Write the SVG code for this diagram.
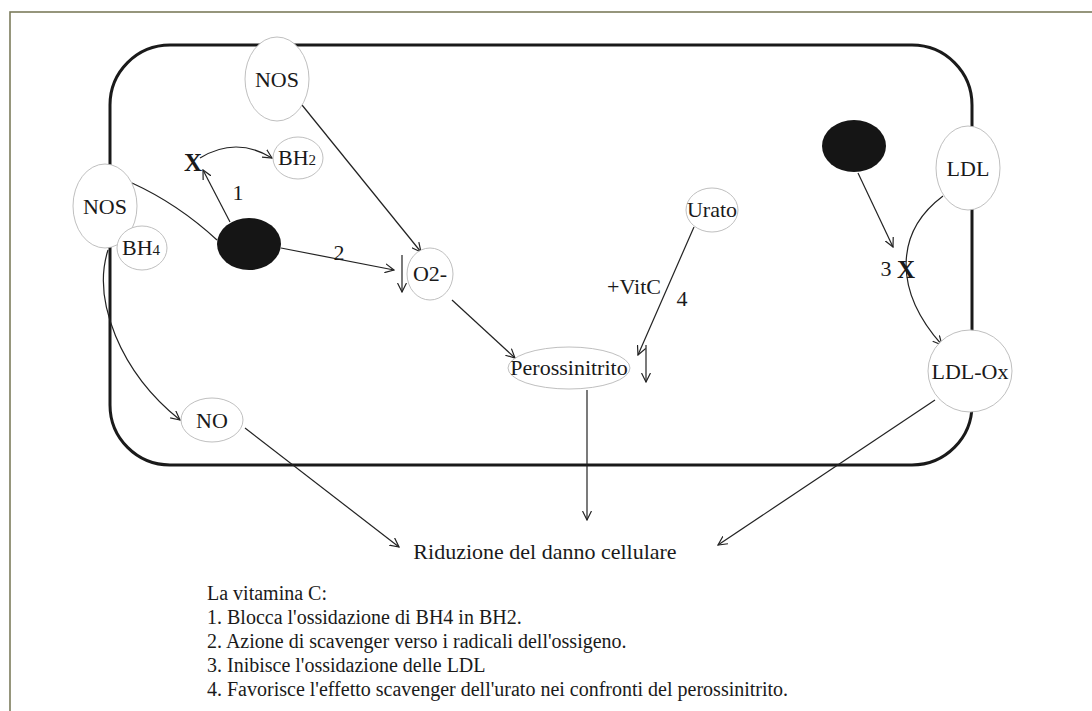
<svg xmlns="http://www.w3.org/2000/svg" width="1092" height="711" viewBox="0 0 1092 711">
<defs>
<marker id="arr" viewBox="0 0 10 10" refX="9" refY="5" markerWidth="10" markerHeight="10" markerUnits="userSpaceOnUse" orient="auto">
<path d="M0,0.5 L9,5 L0,9.5" fill="none" stroke="#222" stroke-width="1.2"/>
</marker>
</defs>
<style>
text{font-family:"Liberation Serif","Times New Roman",serif;fill:#1a1a1a}
.n{font-size:22px;text-anchor:middle}
.el{fill:#fff;stroke:#b8b8b8;stroke-width:0.9}
.bk{fill:#151515;stroke:none}
.c{fill:none;stroke:#222;stroke-width:1.2}
.ca{fill:none;stroke:#222;stroke-width:1.2;marker-end:url(#arr)}
.lg{font-size:20px}
.x{font-size:25px;font-weight:bold}
.sub{font-size:15px}
</style>
<rect x="0" y="0" width="1092" height="711" fill="#fff"/>
<rect x="10" y="12" width="1100" height="720" fill="none" stroke="#7c7c5c" stroke-width="1.6"/>
<rect id="cell" x="110" y="45" width="862" height="420" rx="60" ry="60" fill="none" stroke="#1a1a1a" stroke-width="3"/>

<g id="connectors">
<path class="ca" d="M302,105 L421,252"/>
<path class="c" d="M132,183 Q178,204 217,240"/>
<path class="ca" d="M230,222 L203,170"/>
<path class="ca" d="M200,158 Q236,136 272,158"/>
<path class="ca" d="M281,248 L394,270"/>
<path class="ca" d="M402,255 L402,292"/>
<path class="ca" d="M452,300 L515,358"/>
<path class="ca" d="M694,227 L638,355"/>
<path class="ca" d="M646,345 L646,382"/>
<path class="ca" d="M587,390 L587,520"/>
<path class="ca" d="M108,250 C92,300 120,372 180,420"/>
<path class="ca" d="M245,428 L399,547"/>
<path class="ca" d="M935,400 L718,545"/>
<path class="ca" d="M858,173 L893,247"/>
<path class="ca" d="M943,196 C895,232 893,290 942,345"/>
</g>

<g id="nos-top"><ellipse class="el" cx="277" cy="79" rx="32" ry="42"/><text class="n" x="277" y="87" font-size="23">NOS</text></g>
<g id="bh2"><ellipse class="el" cx="298" cy="158" rx="25" ry="21"/><text class="n" x="297" y="165" font-size="20">BH<tspan class="sub">2</tspan></text></g>
<g id="x1"><text class="x" x="193" y="171" text-anchor="middle">X</text></g>
<g id="label1"><text class="n" x="238" y="200" font-size="20">1</text></g>
<g id="nos-left"><ellipse class="el" cx="105" cy="206" rx="32" ry="42"/><text class="n" x="105" y="214" font-size="23">NOS</text></g>
<g id="bh4"><ellipse class="el" cx="142" cy="248" rx="25" ry="22"/><text class="n" x="141" y="255" font-size="20">BH<tspan class="sub">4</tspan></text></g>
<g id="black-left"><ellipse class="bk" cx="249" cy="244" rx="32" ry="26"/></g>
<g id="label2"><text class="n" x="339" y="260" font-size="20">2</text></g>
<g id="o2"><ellipse class="el" cx="430" cy="274" rx="23" ry="26"/><text class="n" x="430" y="281" font-size="20">O2-</text></g>
<g id="urato"><ellipse class="el" cx="712" cy="210" rx="26" ry="22"/><text class="n" x="712" y="217" font-size="21">Urato</text></g>
<g id="vitc"><text class="n" x="634" y="294">+VitC</text><text class="n" x="682" y="306">4</text></g>
<g id="perossinitrito"><ellipse class="el" cx="569" cy="368" rx="61" ry="21"/><text class="n" x="569" y="375" font-size="21">Perossinitrito</text></g>
<g id="no"><ellipse class="el" cx="212" cy="420" rx="31" ry="22"/><text class="n" x="212" y="428">NO</text></g>
<g id="black-right"><ellipse class="bk" cx="854" cy="146" rx="32" ry="26"/></g>
<g id="ldl"><ellipse class="el" cx="968" cy="168" rx="32" ry="42"/><text class="n" x="968" y="176" font-size="23">LDL</text></g>
<g id="x3"><text class="n" x="886" y="276" font-size="20">3</text><text class="x" x="906" y="278" text-anchor="middle">X</text></g>
<g id="ldlox"><ellipse class="el" cx="970" cy="371" rx="42" ry="41"/><text class="n" x="970" y="379">LDL-Ox</text></g>
<g id="riduzione"><text class="n" x="545" y="559" font-size="23">Riduzione del danno cellulare</text></g>

<g id="legend">
<text class="lg" x="207" y="600">La vitamina C:</text>
<text class="lg" x="207" y="624">1. Blocca l'ossidazione di BH4 in BH2.</text>
<text class="lg" x="207" y="648">2. Azione di scavenger verso i radicali dell'ossigeno.</text>
<text class="lg" x="207" y="672">3. Inibisce l'ossidazione delle LDL</text>
<text class="lg" x="207" y="696">4. Favorisce l'effetto scavenger dell'urato nei confronti del perossinitrito.</text>
</g>
</svg>
